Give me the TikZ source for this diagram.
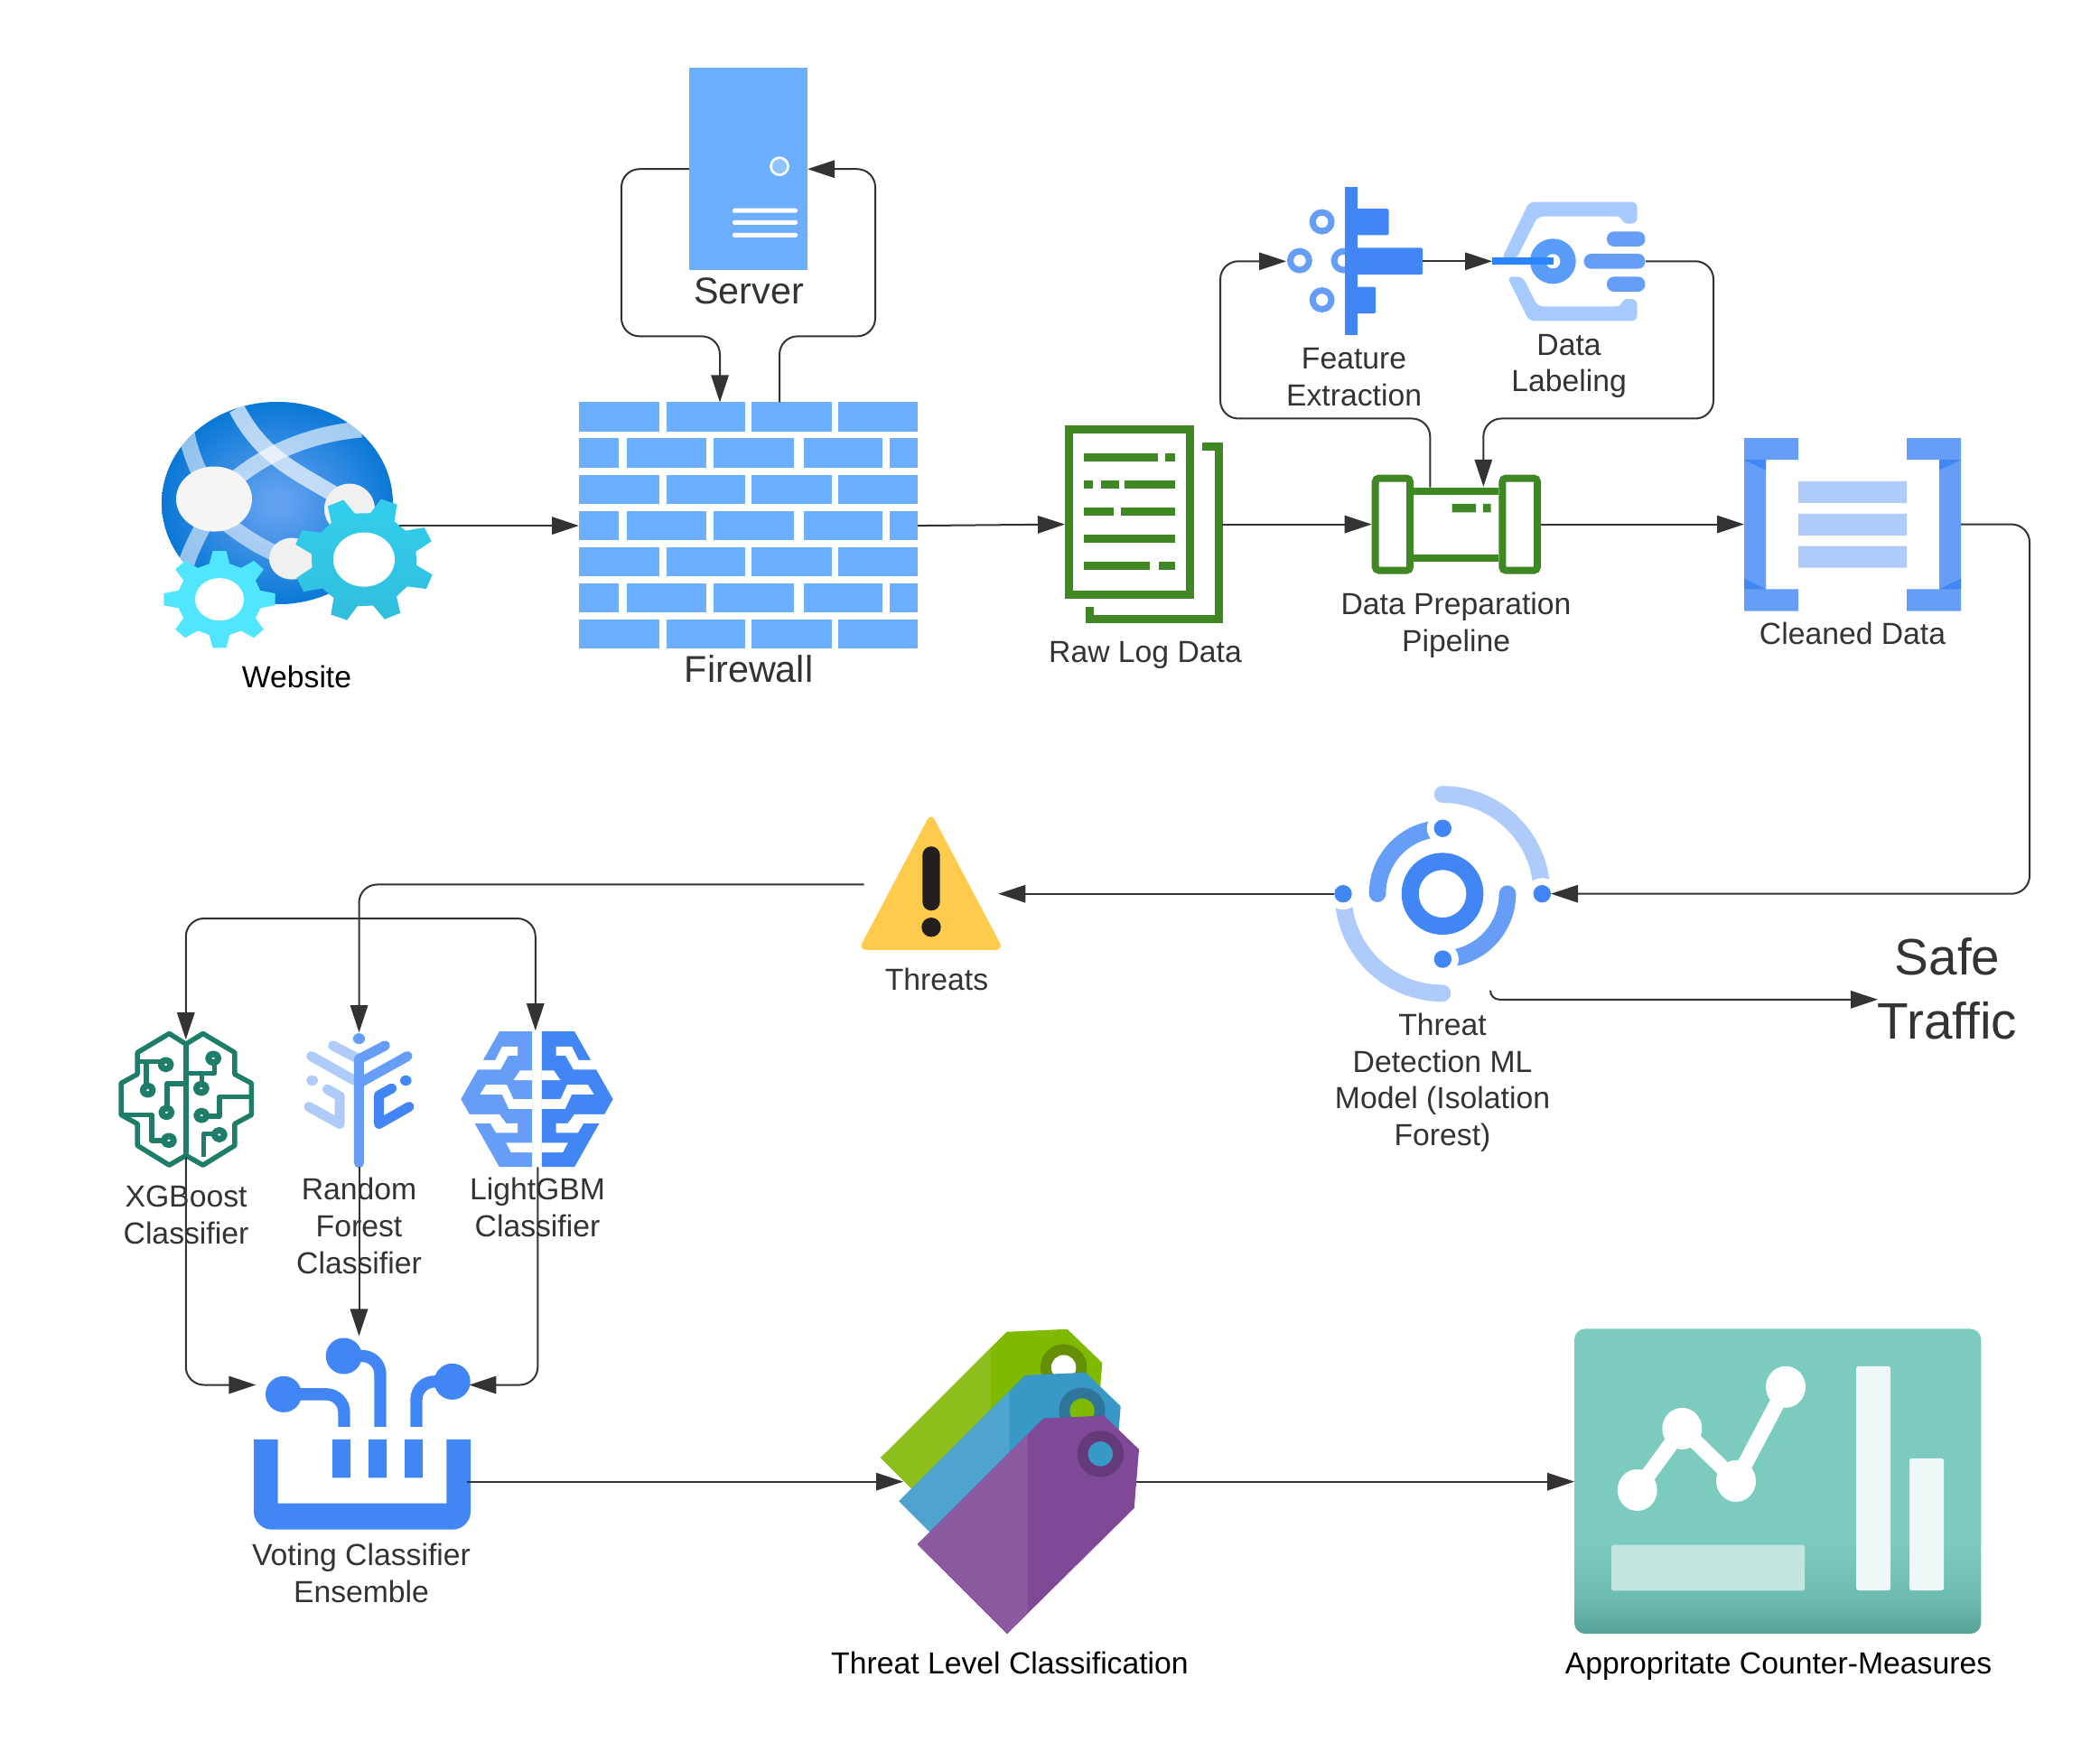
\documentclass[tikz,border=0pt]{standalone}
\usepackage{fontspec}
\setmainfont{Liberation Sans}
\usetikzlibrary{arrows.meta,fit}
\definecolor{conncol}{HTML}{333333}
\definecolor{fwblue}{HTML}{6CAEFF}
\definecolor{fwdot}{HTML}{8FC3FF}
\definecolor{gblue}{HTML}{4285F4}
\definecolor{mblue}{HTML}{669DF6}
\definecolor{lblue}{HTML}{AECBFA}
\definecolor{lab}{HTML}{A6CAFE}
\definecolor{labring}{HTML}{5A9DF8}
\definecolor{labbar}{HTML}{2A85FF}
\definecolor{awsgreen}{HTML}{3F8624}
\definecolor{brain}{HTML}{1E7D69}
\definecolor{globeA}{HTML}{5FA0EF}
\definecolor{globeB}{HTML}{0A78D6}
\definecolor{gearTop}{HTML}{32CEED}
\definecolor{gearBot}{HTML}{32BEDD}
\definecolor{gearSmall}{HTML}{50E6FF}
\definecolor{warnY}{HTML}{FFCB4D}
\definecolor{warnK}{HTML}{231F20}
\definecolor{ctrA}{HTML}{54A398}
\definecolor{ctrB}{HTML}{6CBDB0}
\definecolor{ctrC}{HTML}{7CCBBF}
\definecolor{ctrBar}{HTML}{EFF8F6}
\definecolor{ctrLow}{HTML}{C4E4DF}
\definecolor{tagG}{HTML}{7FBA00}
\definecolor{tagGl}{HTML}{8CBF1C}
\definecolor{tagGr}{HTML}{668F08}
\definecolor{tagB}{HTML}{3999C6}
\definecolor{tagBl}{HTML}{4EA4CE}
\definecolor{tagBr}{HTML}{2E7599}
\definecolor{tagP}{HTML}{804998}
\definecolor{tagPl}{HTML}{8D5AA1}
\definecolor{tagPr}{HTML}{643A7A}
\pgfdeclareradialshading{globeshade}{\pgfpoint{0bp}{0bp}}{color(0bp)=(globeA);color(3bp)=(globeA);color(25bp)=(globeB);color(100bp)=(globeB)}
\pgfdeclareverticalshading{ctrshade}{100bp}{color(0bp)=(ctrA);color(25bp)=(ctrA);color(31bp)=(ctrB);color(40bp)=(ctrC);color(100bp)=(ctrC)}
\tikzset{
  conn/.style={draw=conncol,line width=0.6pt,-{Triangle[length=9pt,width=5.8pt,fill=conncol]}},
  rc/.style={rounded corners=6pt},
  iconbox/.style={inner sep=0pt,outer sep=0pt,draw=none},
  lbl/.style={text=conncol,align=center,inner sep=0pt,font=\fontsize{10.12}{12.24}\selectfont},
  lblk/.style={lbl,text=black},
  lblbig/.style={lbl,font=\fontsize{12.4}{14.5}\selectfont},
  lblhuge/.style={lbl,font=\fontsize{17}{21.3}\selectfont},
}
\newcommand\iconnode[5]{\node[iconbox,fit={(#2,#3)(#4,#5)}] (#1) {};}
% cx cy rx ry rot style
\newcommand\gearicon[6]{%
  \path[#6] ({#1+#3*0.75*cos(#5-14)},{#2+#4*0.75*sin(#5-14)})
   \foreach \i [evaluate=\i as \a using #5+45*\i] in {0,...,7}{
     -- ({#1+#3*0.75*cos(\a-14)},{#2+#4*0.75*sin(\a-14)})
     -- ({#1+#3*cos(\a-7)},{#2+#4*sin(\a-7)})
     -- ({#1+#3*cos(\a+7)},{#2+#4*sin(\a+7)})
     -- ({#1+#3*0.75*cos(\a+14)},{#2+#4*0.75*sin(\a+14)})
   } -- cycle;}
\newcommand\tagpoly{(1015.7,1708.3) -- (1155.3,1569) -- (1222.3,1566) -- (1261,1603.3) -- (1255.7,1668.3) -- (1115,1807.3) -- cycle}
\newcommand\tagicon[6]{%
  \begin{scope}[shift={(#1,#2)}]
    \fill[#3] \tagpoly;
    \begin{scope}\clip (900,1400) rectangle (1137.7,1900); \fill[#4] \tagpoly; \end{scope}
    \fill[#5] (1218.3,1608.3) circle (25.7);
    \fill[#6] (1218.3,1608.3) circle (13.7);
  \end{scope}}
\newcommand\lgbmhalf[1]{%
  \fill[#1] (1170,33) -- (1268,33) -- (1268,483) -- (1170,483) -- (1055,258) -- cycle;
  \fill[white] (1090,128) -- (1158,128) -- (1178,83) -- (1225,83) -- (1225,113) -- (1197,113) -- (1173,160) -- (1080,160) -- cycle;
  \fill[white] (1268,163) -- (1232,163) -- (1212,195) -- (1268,195) -- cycle;
  \fill[white] (1112,242) -- (1130,210) -- (1192,210) -- (1212,258) -- (1268,258) -- (1268,290) -- (1198,290) -- (1178,242) -- cycle;
  \fill[white] (1060,308) -- (1170,308) -- (1190,338) -- (1225,338) -- (1225,370) -- (1160,370) -- (1143,338) -- (1075,338) -- cycle;
  \fill[white] (1268,435) -- (1205,435) -- (1190,403) -- (1268,403) -- cycle;}
\begin{document}
\begin{tikzpicture}[x=0.3pt,y=-0.3003pt]
\useasboundingbox (0pt,0pt) rectangle (697.5pt,-581.7pt);
\fill[white] (0pt,0pt) rectangle (697.5pt,-581.7pt);

% ---------- Website
\iconnode{website}{179}{445}{442}{718}
\begin{scope}
  \clip (307,556.5) ellipse (128 and 112);
  \shade[shading=globeshade] (179,445) rectangle (435,668);
  \begin{scope}[line width=5.4pt,line cap=butt]
    \draw[white,opacity=.68] (262,452) .. controls (290,505) and (325,520) .. (372,548);
    \draw[white,opacity=.62] (400,475) .. controls (340,480) and (280,505) .. (237,552);
    \draw[white,opacity=.55] (205,470) .. controls (212,520) and (235,540) .. (235,560) .. controls (225,585) and (208,610) .. (205,630);
    \draw[white,opacity=.55] (240,570) .. controls (270,595) and (295,610) .. (325,620);
  \end{scope}
\end{scope}
\fill[white!96!black] (237,552) ellipse (42 and 36);
\fill[white!94!black] (387,563) ellipse (28 and 28);
\fill[white!94!black] (323,618) ellipse (25 and 23);
\gearicon{403}{619}{78}{69}{-24}{top color=gearTop,bottom color=gearBot}
\fill[white] (403,619) ellipse (34 and 30);
\gearicon{243}{663}{62}{54}{0}{fill=gearSmall}
\fill[white] (243,663) ellipse (27 and 23.5);
\node[lblk] (websitelabel) at (328.5,749) {Website};

% ---------- Firewall
\iconnode{firewall}{641}{445}{1016}{718}
\foreach \k in {0,2,4,6}{
  \foreach \a/\b in {641/729.5,737.5/825,832/920.5,928/1016}{
    \fill[fwblue] (\a,445+40*\k) rectangle (\b,477.5+40*\k);}}
\foreach \k in {1,3,5}{
  \foreach \a/\b in {641/685,694/781.5,790/879,890/977,985/1016}{
    \fill[fwblue] (\a,445+40*\k) rectangle (\b,477.5+40*\k);}}
\node[lblbig] (firewalllabel) at (829,740) {Firewall};
\coordinate (fwIn) at (797,445);
\coordinate (fwOut) at (863,445);

% ---------- Server
\iconnode{server}{763}{75}{894}{299}
\fill[fwblue] (763,75) rectangle (894,299);
\draw[white,line width=0.8pt,fill=fwdot] (863,184) circle (9.5);
\foreach \y in {233,246,260}{\fill[white,rounded corners=0.5pt] (811,\y-2.5) rectangle (883,\y+2.5);}
\node[lblbig] (serverlabel) at (829,322) {Server};

% ---------- Raw log data
\iconnode{rawlog}{1179}{471}{1353}{689}
\draw[awsgreen,line width=2.7pt] (1183.5,475.5) rectangle (1317.5,657.5);
\draw[awsgreen,line width=2.7pt] (1331,493.5) -- (1349.3,493.5) -- (1349.3,684.7) -- (1206,684.7) -- (1206,671);
\foreach \y/\a/\b in {506.3/1200/1281.7,506.3/1289.7/1301,536.3/1200/1210.3,536.3/1219.3/1238.7,536.3/1245.3/1301,566.3/1200/1233,566.3/1241/1301,596.3/1200/1301,626.3/1200/1273.3,626.3/1283/1301}{
  \fill[awsgreen] (\a,\y-4.5) rectangle (\b,\y+4.5);}
\node[lbl] (rawloglabel) at (1268,724.5) {Raw Log Data};

% ---------- Pipeline
\iconnode{pipeline}{1518.7}{525}{1706}{635}
\draw[awsgreen,line width=2.4pt] (1565,543) -- (1659,543) (1565,617) -- (1659,617);
\draw[awsgreen,line width=2.4pt,rounded corners=1.2pt] (1522.7,529) rectangle (1561,631);
\draw[awsgreen,line width=2.4pt,rounded corners=1.2pt] (1663.3,529) rectangle (1702,631);
\fill[awsgreen] (1607.7,557.3) rectangle (1634,566.7) (1642,557.3) rectangle (1650.7,566.7);
\node[lbl] (pipelinelabel) at (1612,691.5) {Data Preparation\\Pipeline};
\coordinate (pipeOut) at (1583.3,539);
\coordinate (pipeIn) at (1642.3,538.3);

% ---------- Feature extraction
\iconnode{feature}{1424}{207}{1575}{371}
\foreach \p in {(1463.6,245.3),(1438.9,288.3),(1487.5,288.3),(1463.6,331.7)}{\draw[mblue,line width=2.1pt] \p circle (10.4);}
\fill[gblue] (1488.9,206.7) rectangle (1502.9,371);
\fill[gblue,rounded corners=0.6pt] (1500,231) rectangle (1537.5,260);
\fill[gblue,rounded corners=0.6pt] (1500,274) rectangle (1575,303.7);
\fill[gblue,rounded corners=0.6pt] (1500,317.3) rectangle (1523.2,346.7);
\node[lbl] (featurelabel) at (1499,417) {Feature\\Extraction};

% ---------- Data labeling
\iconnode{labeling}{1652}{223}{1822}{355}
\fill[lab,rounded corners=1.8pt] (1662.5,286.7) -- (1692.9,223.3) -- (1812.5,223.3) -- (1812.5,247.3) -- (1795.7,247.3) -- (1795.7,239.3) -- (1702.5,239.3) -- (1678.6,286.7) -- cycle;
\fill[lab,rounded corners=1.8pt] (1668.6,306) -- (1692.9,355) -- (1812.5,355) -- (1812.5,330.7) -- (1795.7,330.7) -- (1795.7,339) -- (1702.5,339) -- (1685.7,306) -- cycle;
\fill[labring] (1719.3,289) ellipse (25.4 and 25);
\fill[white] (1719.3,289) circle (8);
\fill[labbar] (1652,285) rectangle (1720,293);
\fill[mblue,rounded corners=2.4pt] (1778.9,256) rectangle (1821.4,272.7);
\fill[mblue,rounded corners=2.4pt] (1753.6,280.7) rectangle (1821.4,297.3);
\fill[mblue,rounded corners=2.4pt] (1778.9,306) rectangle (1821.4,322.7);
\node[lbl] (labelinglabel) at (1737,405) {Data\\Labeling};

% ---------- Cleaned data
\iconnode{cleaned}{1931}{484}{2171}{676}
\fill[mblue] (1931,484.7) rectangle (1991,508.7) (1931,651.7) rectangle (1991,676) (1931,508.7) rectangle (1955,651.7);
\fill[mblue] (2111,484.7) rectangle (2171,508.7) (2111,651.7) rectangle (2171,676) (2147,508.7) rectangle (2171,651.7);
\fill[gblue] (1931,508.7) -- (1955,508.7) -- (1955,520) -- cycle (1931,640) -- (1955,651.7) -- (1931,651.7) -- cycle;
\fill[gblue] (2147,508.7) -- (2171,508.7) -- (2147,520) -- cycle (2171,640) -- (2171,651.7) -- (2147,651.7) -- cycle;
\fill[lblue] (1991,532.3) rectangle (2111,556.3) (1991,568.3) rectangle (2111,592.3) (1991,604) rectangle (2111,628);
\node[lbl] (cleanedlabel) at (2051,700.5) {Cleaned Data};

% ---------- Threat detection
\iconnode{detect}{1477}{869.7}{1717}{1107.7}
\begin{scope}[shift={(1597,988.7)}]
  \draw[gblue,line width=5.7pt] (0,0) circle (35.8);
  \draw[mblue,line width=5.6pt] (-180:72) arc[start angle=-180,end angle=-90,radius=72];
  \fill[mblue] (-72,0) circle (9.3);
  \draw[mblue,line width=5.6pt] (0:72) arc[start angle=0,end angle=90,radius=72];
  \fill[mblue] (72,0) circle (9.3);
  \draw[lblue,line width=5.6pt] (-90:110) arc[start angle=-90,end angle=0,radius=110];
  \fill[lblue] (0,-110) circle (9.3);
  \draw[lblue,line width=5.6pt] (90:110) arc[start angle=90,end angle=180,radius=110];
  \fill[lblue] (0,110) circle (9.3);
  \foreach \p in {(0.3,-72.4),(0.3,72.3),(-110,0),(110.3,0)}{
    \fill[white] \p circle (17.5);
    \fill[gblue] \p circle (9.7);}
\end{scope}
\node[lbl] (detectlabel) at (1597,1197.5) {Threat\\Detection ML\\Model (Isolation\\Forest)};
\coordinate (safeStart) at (1650,1096);
\coordinate (safeIn) at (2079,1105.7);
\node[lblhuge] (safe) at (2156,1094) {Safe\\Traffic};

% ---------- Threats
\iconnode{threats}{954}{925.7}{1105.3}{1051.7}
\fill[warnY,rounded corners=2.6pt] (1030.7,899) -- (1111,1050.7) -- (950.5,1050.7) -- cycle;
\fill[warnK,rounded corners=2.9pt] (1021.3,936.3) rectangle (1040.7,1007.3);
\fill[warnK] (1031,1025.7) circle (10.7);
\node[lbl] (threatslabel) at (1037,1083) {Threats};
\coordinate (threatsOut) at (956.7,978.5);

% ---------- XGBoost
\iconnode{xgb}{132}{1143}{280}{1292}
\begin{scope}[shift={(120,1130)},x=0.111pt,y=-0.1pt,draw=brain,line width=1.65pt,line join=round]
  \draw (232,75) -- (182,40) -- (87,103) -- (87,175) -- (38,205) -- (38,310) -- (87,340) -- (87,412) -- (182,477) -- (232,445) -- (283,477) -- (378,412) -- (378,340) -- (428,310) -- (428,205) -- (378,175) -- (378,103) -- (283,40) -- cycle;
  \draw (232,75) -- (232,450);
  \draw (87,133) -- (155,133);
  \draw (113,133) -- (113,210);
  \draw (225,207) -- (175,207) -- (175,285);
  \draw (38,310) -- (130,310) -- (130,395) -- (165,395);
  \draw (232,172) -- (318,172) -- (318,140);
  \draw (280,172) -- (280,205);
  \draw (428,250) -- (332,250) -- (332,315) -- (295,315);
  \draw (285,450) -- (285,373) -- (315,373);
  \foreach \p in {(172,143),(118,228),(174,302),(181,395),(314,122),(278,222),(279,312),(332,376)}{
    \draw[line width=2.1pt] \p circle (15);}
\end{scope}
\node[lbl] (xgblabel) at (206,1344) {XGBoost\\Classifier};

% ---------- Random forest
\iconnode{forest}{335}{1142}{460}{1291}
\begin{scope}[shift={(120,1130)},x=0.111pt,y=-0.1pt,line width=3.3pt,line cap=round,line join=round]
  \draw[lblue] (672,80) -- (750,125);
  \draw[lblue] (607,115) -- (735,195);
  \fill[lblue] (610,196) circle (17);
  \draw[lblue] (655,225) -- (692,248) -- (692,340) -- (600,283);
  \draw[gblue] (848,222) -- (810,245) -- (810,340) -- (900,283);
  \fill[gblue] (890,196) circle (17);
  \draw[mblue] (750,470) -- (750,125) -- (828,80);
  \draw[mblue] (750,205) -- (895,115);
  \fill[mblue] (750,57) circle (18);
\end{scope}
\node[lbl] (forestlabel) at (397.5,1356) {Random\\Forest\\Classifier};

% ---------- LightGBM
\iconnode{lgbm}{510}{1140}{680}{1291}
\begin{scope}[shift={(120,1130)},x=0.111pt,y=-0.1pt]
  \lgbmhalf{mblue}
\end{scope}
\begin{scope}[shift={(120+2565/2.703,1130)},x=-0.111pt,y=-0.1pt]
  \lgbmhalf{gblue}
\end{scope}
\node[lbl] (lgbmlabel) at (595,1336) {LightGBM\\Classifier};

% ---------- Voting
\iconnode{voting}{283.3}{1478}{519.3}{1692}
\fill[gblue] (281,1592.3) -- (307.7,1592.3) -- (307.7,1663) -- (494.3,1663) -- (494.3,1592.3) -- (521,1592.3) [rounded corners=6pt] -- (521,1692) -- (281,1692) [sharp corners] -- cycle;
\fill[gblue] (368,1592.3) rectangle (388,1634.7) (408,1592.3) rectangle (428,1634.7) (448,1592.3) rectangle (468,1634.7);
\begin{scope}[gblue,line width=4pt]
  \draw[rounded corners=6pt] (314,1542.3) -- (381,1542.3) -- (381,1578.3);
  \draw[rounded corners=6pt] (380.7,1500) -- (421,1500) -- (421,1578.3);
  \draw[rounded corners=6pt] (500.7,1528.3) -- (461,1528.3) -- (461,1578.3);
\end{scope}
\fill[gblue] (314,1542.3) circle (20) (380.7,1500) circle (20) (500.7,1528.3) circle (20);
\node[lbl] (votinglabel) at (400,1740.5) {Voting Classifier\\Ensemble};
\coordinate (voteOut) at (517,1639);
\coordinate (voteL) at (283.3,1532);
\coordinate (voteR) at (519.3,1532);
\coordinate (voteT) at (397.5,1478);

% ---------- Tags
\iconnode{tags}{1000}{1470}{1258}{1808}
\tagicon{-40.7}{-95.7}{tagG}{tagGl}{tagGr}{white}
\tagicon{-20.3}{-47.7}{tagB}{tagBl}{tagBr}{tagG}
\tagicon{0}{0}{tagP}{tagPl}{tagPr}{tagB}
\node[lblk] (tagslabel) at (1118,1839.5) {Threat Level Classification};

% ---------- Counter measures
\iconnode{counter}{1743}{1470}{2193.3}{1808}
\shade[shading=ctrshade,rounded corners=3.6pt] (1743,1470) rectangle (2193.3,1807.3);
\draw[white,line width=5.1pt] (1812.7,1648.3) -- (1862.3,1580.3) -- (1922,1638.3) -- (1977,1534.3);
\fill[white] (1812.7,1648.3) ellipse (22 and 23) (1862.3,1580.3) ellipse (22 and 23) (1922,1638.3) ellipse (22 and 23) (1977,1534.3) ellipse (22 and 23);
\fill[ctrBar,rounded corners=0.8pt] (2055,1511.3) rectangle (2093,1759.3);
\fill[ctrBar,rounded corners=0.8pt] (2114,1613.3) rectangle (2152,1759.3);
\fill[ctrLow,rounded corners=0.8pt] (1784,1709) rectangle (1998,1759.7);
\node[lblk] (counterlabel) at (1969,1843) {Appropritate Counter-Measures};

% ---------- Connectors
\draw[conn,rc] (server.west) -- (688,187) -- (688,372) -- (797,372) -- (fwIn);
\draw[conn,rc] (fwOut) -- (863,372) -- (969,372) -- (969,187) -- (server.east);
\draw[conn] (website.east) -- (firewall.west);
\draw[conn] (firewall.east) -- (rawlog.west);
\draw[conn] (rawlog.east) -- (pipeline.west);
\draw[conn] (pipeline.east) -- (cleaned.west);
\draw[conn,rc] (pipeOut) -- (1583.3,463) -- (1351,463) -- (1351,289) -- (feature.west);
\draw[conn] (feature.east) -- (labeling.west);
\draw[conn,rc] (labeling.east) -- (1897,289) -- (1897,463) -- (1642.3,463) -- (pipeIn);
\draw[conn,rc] (cleaned.east) -- (2247,580) -- (2247,988.7) -- (detect.east);
\draw[conn] (detect.west) -- (threats.east);
\draw[conn,rounded corners=3pt] (safeStart) -- (1650,1105.7) -- (safeIn);
\draw[conn,rc] (threatsOut) -- (397.5,978.5) -- (forest.north);
\coordinate (split) at (397.5,1016);
\draw[conn,rc] (split) -- (205.8,1016) -- (205.8,1150);
\draw[conn,rc] (split) -- (592.8,1016) -- (592.8,1140);
\draw[conn,rc] (205.8,1280) -- (205.8,1532) -- (voteL);
\draw[conn] (397.5,1291) -- (voteT);
\draw[conn,rc] (595.4,1291) -- (595.4,1532) -- (voteR);
\draw[conn] (voteOut) -- (tags.west);
\draw[conn] (tags.east) -- (counter.west);
\end{tikzpicture}
\end{document}
